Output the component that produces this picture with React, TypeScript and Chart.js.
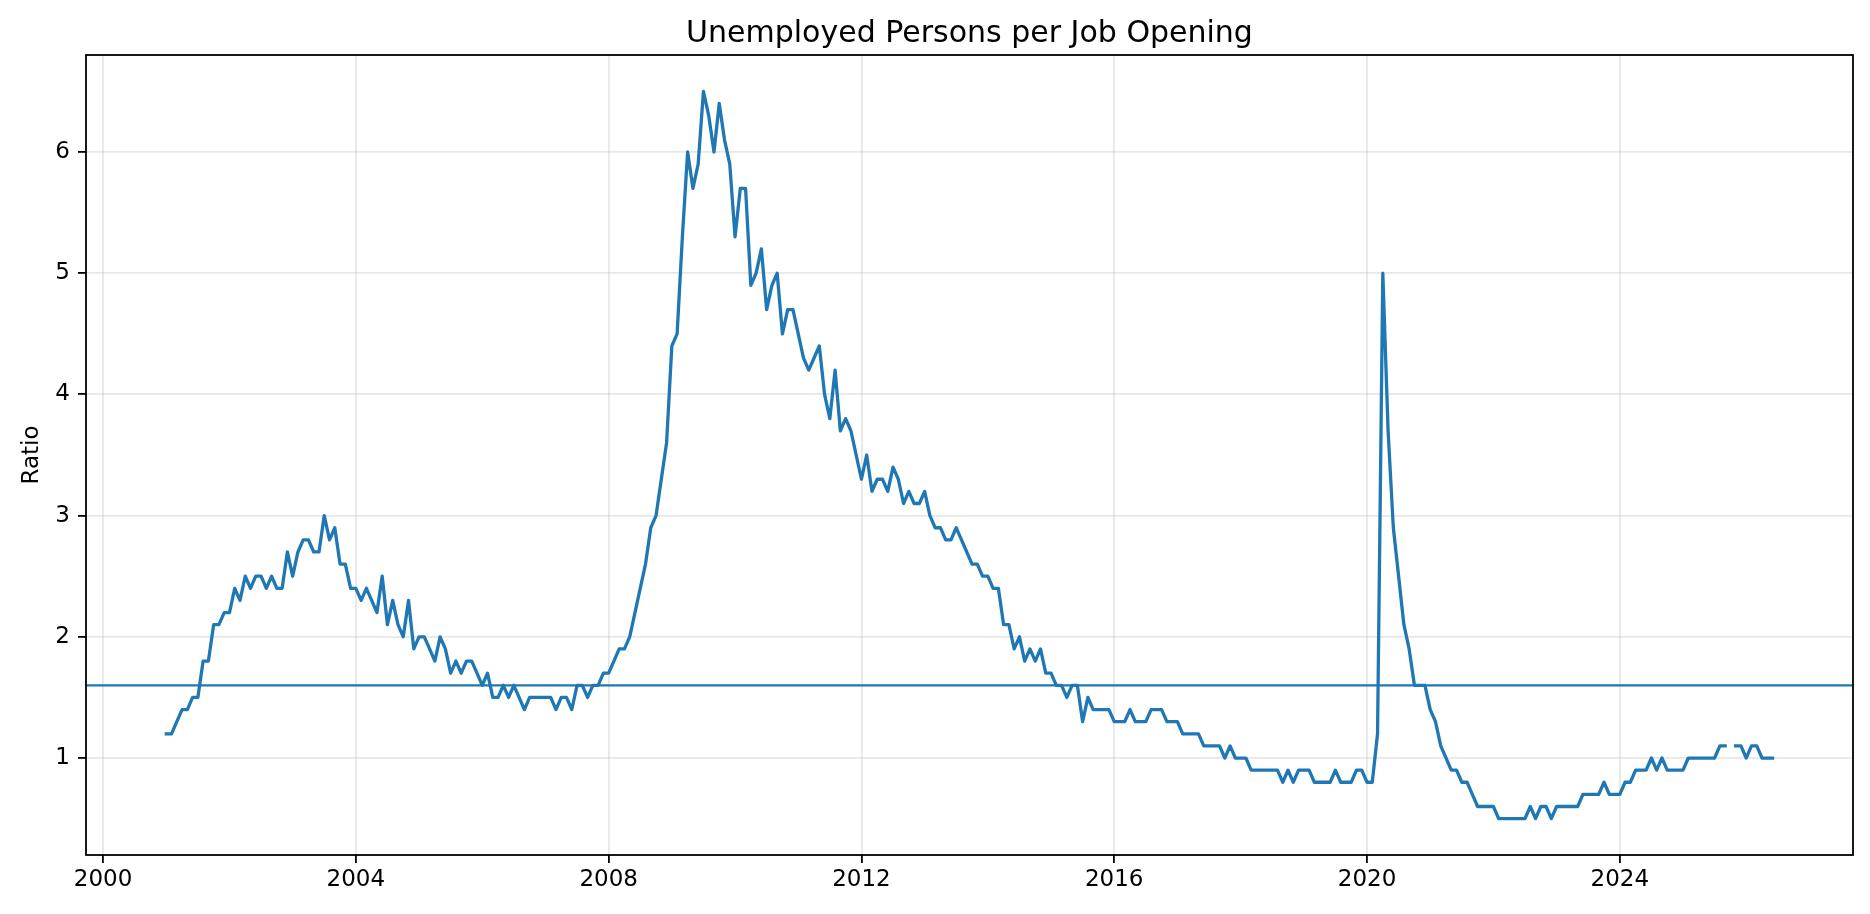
import { useEffect, useRef } from "react";
import { Chart, registerables } from "chart.js";

Chart.register(...registerables);

// Monthly series, first point is January 2001. null = month not published.
const firstYear = 2001;
const ratio: (number | null)[] = [
  1.2, 1.2, 1.3, 1.4, 1.4, 1.5, 1.5, 1.8, 1.8, 2.1, 2.1, 2.2, // 2001
  2.2, 2.4, 2.3, 2.5, 2.4, 2.5, 2.5, 2.4, 2.5, 2.4, 2.4, 2.7, // 2002
  2.5, 2.7, 2.8, 2.8, 2.7, 2.7, 3.0, 2.8, 2.9, 2.6, 2.6, 2.4, // 2003
  2.4, 2.3, 2.4, 2.3, 2.2, 2.5, 2.1, 2.3, 2.1, 2.0, 2.3, 1.9, // 2004
  2.0, 2.0, 1.9, 1.8, 2.0, 1.9, 1.7, 1.8, 1.7, 1.8, 1.8, 1.7, // 2005
  1.6, 1.7, 1.5, 1.5, 1.6, 1.5, 1.6, 1.5, 1.4, 1.5, 1.5, 1.5, // 2006
  1.5, 1.5, 1.4, 1.5, 1.5, 1.4, 1.6, 1.6, 1.5, 1.6, 1.6, 1.7, // 2007
  1.7, 1.8, 1.9, 1.9, 2.0, 2.2, 2.4, 2.6, 2.9, 3.0, 3.3, 3.6, // 2008
  4.4, 4.5, 5.3, 6.0, 5.7, 5.9, 6.5, 6.3, 6.0, 6.4, 6.1, 5.9, // 2009
  5.3, 5.7, 5.7, 4.9, 5.0, 5.2, 4.7, 4.9, 5.0, 4.5, 4.7, 4.7, // 2010
  4.5, 4.3, 4.2, 4.3, 4.4, 4.0, 3.8, 4.2, 3.7, 3.8, 3.7, 3.5, // 2011
  3.3, 3.5, 3.2, 3.3, 3.3, 3.2, 3.4, 3.3, 3.1, 3.2, 3.1, 3.1, // 2012
  3.2, 3.0, 2.9, 2.9, 2.8, 2.8, 2.9, 2.8, 2.7, 2.6, 2.6, 2.5, // 2013
  2.5, 2.4, 2.4, 2.1, 2.1, 1.9, 2.0, 1.8, 1.9, 1.8, 1.9, 1.7, // 2014
  1.7, 1.6, 1.6, 1.5, 1.6, 1.6, 1.3, 1.5, 1.4, 1.4, 1.4, 1.4, // 2015
  1.3, 1.3, 1.3, 1.4, 1.3, 1.3, 1.3, 1.4, 1.4, 1.4, 1.3, 1.3, // 2016
  1.3, 1.2, 1.2, 1.2, 1.2, 1.1, 1.1, 1.1, 1.1, 1.0, 1.1, 1.0, // 2017
  1.0, 1.0, 0.9, 0.9, 0.9, 0.9, 0.9, 0.9, 0.8, 0.9, 0.8, 0.9, // 2018
  0.9, 0.9, 0.8, 0.8, 0.8, 0.8, 0.9, 0.8, 0.8, 0.8, 0.9, 0.9, // 2019
  0.8, 0.8, 1.2, 5.0, 3.7, 2.9, 2.5, 2.1, 1.9, 1.6, 1.6, 1.6, // 2020
  1.4, 1.3, 1.1, 1.0, 0.9, 0.9, 0.8, 0.8, 0.7, 0.6, 0.6, 0.6, // 2021
  0.6, 0.5, 0.5, 0.5, 0.5, 0.5, 0.5, 0.6, 0.5, 0.6, 0.6, 0.5, // 2022
  0.6, 0.6, 0.6, 0.6, 0.6, 0.7, 0.7, 0.7, 0.7, 0.8, 0.7, 0.7, // 2023
  0.7, 0.8, 0.8, 0.9, 0.9, 0.9, 1.0, 0.9, 1.0, 0.9, 0.9, 0.9, // 2024
  0.9, 1.0, 1.0, 1.0, 1.0, 1.0, 1.0, 1.1, 1.1, null, 1.1, 1.1, // 2025
  1.0, 1.1, 1.1, 1.0, 1.0, 1.0, // 2026
];
const threshold = 1.6;

const xTicks = [2000, 2004, 2008, 2012, 2016, 2020, 2024];
const yTicks = [1, 2, 3, 4, 5, 6];

const chartTitle = "Unemployed Persons per Job Opening";
const yTitle = "Ratio";

// axis limits (matplotlib 5% margins)
const X_MIN = 1999.73;
const X_MAX = 2027.69;
const Y_MIN = 0.2;
const Y_MAX = 6.8;

const BLUE = "#1f77b4";
const FONT = '"DejaVu Sans", sans-serif';
const TICK_SIZE = 23;

Chart.defaults.font.family = FONT;
Chart.defaults.color = "#000";

// spines on all four sides + title centred over the axes
const framePlugin = {
  id: "frame",
  afterDatasetsDraw(chart: Chart) {
    const { ctx, chartArea: a } = chart;
    ctx.save();
    ctx.strokeStyle = "#000";
    ctx.lineWidth = 1.8;
    ctx.strokeRect(a.left, a.top, a.right - a.left, a.bottom - a.top);
    ctx.fillStyle = "#000";
    ctx.font = `30px ${FONT}`;
    ctx.textAlign = "center";
    ctx.textBaseline = "alphabetic";
    ctx.fillText(chartTitle, (a.left + a.right) / 2, a.top - 13);
    ctx.restore();
  },
};

export default function App() {
  const canvasRef = useRef<HTMLCanvasElement>(null);
  const chartRef = useRef<Chart | null>(null);

  useEffect(() => {
    document.body.style.margin = "0";
    if (!canvasRef.current) return;

    if (chartRef.current) {
      chartRef.current.destroy();
    }

    const ctx = canvasRef.current.getContext("2d");
    if (!ctx) return;

    const points = ratio.map((v, i) => ({ x: firstYear + i / 12, y: v }));

    const grid = {
      color: "rgba(176,176,176,0.3)",
      lineWidth: 1.8,
      drawTicks: true,
      tickLength: 8,
      tickColor: "#000",
      tickWidth: 1.8,
    };

    chartRef.current = new Chart(ctx, {
      type: "line",
      data: {
        datasets: [
          {
            label: "threshold",
            data: [
              { x: X_MIN, y: threshold },
              { x: X_MAX, y: threshold },
            ],
            borderColor: BLUE,
            borderWidth: 2.2,
            pointRadius: 0,
          },
          {
            label: "Ratio",
            data: points,
            borderColor: BLUE,
            borderWidth: 3.3,
            borderJoinStyle: "round",
            borderCapStyle: "square",
            pointRadius: 0,
            tension: 0,
            spanGaps: false,
          },
        ],
      },
      options: {
        animation: false,
        responsive: true,
        maintainAspectRatio: false,
        layout: { padding: { top: 55, right: 17, left: 0, bottom: 0 } },
        scales: {
          x: {
            type: "linear",
            min: X_MIN,
            max: X_MAX,
            grid,
            border: { display: false },
            ticks: {
              padding: 3,
              font: { size: TICK_SIZE },
              color: "#000",
              maxRotation: 0,
              callback: (v) => String(v),
            },
            afterBuildTicks: (s) => {
              s.ticks = xTicks.map((v) => ({ value: v }));
            },
            afterFit: (s) => {
              s.height = 59;
            },
          },
          y: {
            type: "linear",
            min: Y_MIN,
            max: Y_MAX,
            grid,
            border: { display: false },
            ticks: {
              padding: 8,
              font: { size: TICK_SIZE },
              color: "#000",
              callback: (v) => String(v),
            },
            title: {
              display: true,
              text: yTitle,
              font: { size: TICK_SIZE },
              color: "#000",
              padding: { top: 18, bottom: 0 },
            },
            afterBuildTicks: (s) => {
              s.ticks = yTicks.map((v) => ({ value: v }));
            },
            afterFit: (s) => {
              s.width = 86;
            },
          },
        },
        plugins: {
          legend: { display: false },
          tooltip: { enabled: false },
          title: { display: false },
        },
      },
      plugins: [framePlugin],
    });

    return () => {
      if (chartRef.current) {
        chartRef.current.destroy();
        chartRef.current = null;
      }
    };
  }, []);

  return (
    <div style={{ position: "relative", width: 1870, height: 914 }}>
      <canvas ref={canvasRef} />
    </div>
  );
}
